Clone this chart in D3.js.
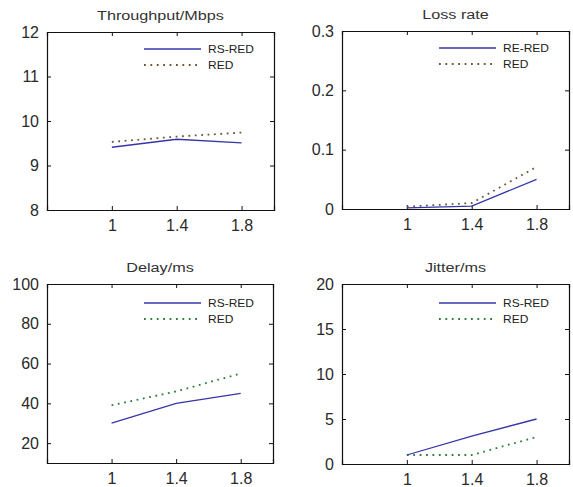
<!DOCTYPE html>
<html>
<head>
<meta charset="utf-8">
<script src="https://cdn.jsdelivr.net/npm/d3@7"></script>
<style>
  body { margin: 0; background: #fff; }
  text { font-family: "Liberation Sans", Arial, sans-serif; fill: #222; font-weight: normal; }
</style>
</head>
<body>
<svg id="chart" width="573" height="487"></svg>
<script>
// x values shared by all panels
const xValues = [1, 1.4, 1.8];
const xTicks = [1, 1.4, 1.8];

// panel titles and legend labels
const titles = ["Throughput/Mbps", "Loss rate", "Delay/ms", "Jitter/ms"];
const legendLabels = [["RS-RED", "RED"], ["RE-RED", "RED"], ["RS-RED", "RED"], ["RS-RED", "RED"]];

// series values
const throughputRsRed = [9.41, 9.59, 9.51];
const throughputRed = [9.53, 9.65, 9.74];
const lossRsRed = [0.002, 0.005, 0.05];
const lossRed = [0.004, 0.01, 0.071];
const delayRsRed = [30, 40, 45];
const delayRed = [39, 46, 55];
const jitterRsRed = [1, 3.1, 5];
const jitterRed = [1, 1, 3];

// y tick labels
const throughputTicks = [8, 9, 10, 11, 12];
const lossTicks = [0, 0.1, 0.2, 0.3];
const delayTicks = [20, 40, 60, 80, 100];
const jitterTicks = [0, 5, 10, 15, 20];

const svg = d3.select("#chart");

// layout of the four axes boxes
const panels = [
  { box: [47, 32, 227, 178], yDomain: [8, 12], yTicks: throughputTicks, a: throughputRsRed, b: throughputRed, dotColor: "#6a5636", legY: 17 },
  { box: [342, 31, 227, 178], yDomain: [0, 0.3], yTicks: lossTicks, a: lossRsRed, b: lossRed, dotColor: "#6a5636", legY: 17 },
  { box: [47, 284, 226, 179], yDomain: [10, 100], yTicks: delayTicks, a: delayRsRed, b: delayRed, dotColor: "#2f7d36", legY: 19 },
  { box: [342, 284, 227, 180], yDomain: [0, 20], yTicks: jitterTicks, a: jitterRsRed, b: jitterRed, dotColor: "#2f7d36", legY: 19 }
];

const tickLen = 4;

panels.forEach((p, i) => {
  const [left, top, w, h] = p.box;
  const g = svg.append("g").attr("transform", `translate(${left},${top})`);

  const x = d3.scaleLinear().domain([0.6, 2]).range([0, w]);
  const y = d3.scaleLinear().domain(p.yDomain).range([h, 0]);

  // axes with labels outside, ticks drawn inward
  g.append("g")
    .attr("transform", `translate(0,${h})`)
    .call(d3.axisBottom(x).tickValues(xTicks).tickSize(-tickLen).tickPadding(10).tickFormat(d => String(d)));
  g.append("g")
    .call(d3.axisLeft(y).tickValues(p.yTicks).tickSize(-tickLen).tickPadding(8).tickFormat(d => String(d)));
  g.append("g")
    .call(d3.axisTop(x).tickValues(xTicks).tickSize(-tickLen).tickFormat(""));
  g.append("g")
    .attr("transform", `translate(${w},0)`)
    .call(d3.axisRight(y).tickValues(p.yTicks).tickSize(-tickLen).tickFormat(""));

  g.selectAll(".domain").attr("stroke", "#111").attr("stroke-width", 1.2);
  g.selectAll(".tick line").attr("stroke", "#111");
  g.selectAll(".tick text").style("font-size", "16px").style("fill", "#2a2a2a");

  // title
  g.append("text")
    .attr("transform", `translate(${w / 2},-12) scale(1.2,1)`)
    .attr("text-anchor", "middle")
    .style("font-size", "13.5px")
    .style("fill", "#333")
    .text(titles[i]);

  const line = d3.line().x((d, j) => x(xValues[j])).y(d => y(d));

  g.append("path")
    .datum(p.b)
    .attr("d", line)
    .attr("fill", "none")
    .attr("stroke", p.dotColor)
    .attr("stroke-width", 1.8)
    .attr("stroke-dasharray", "1.8,4.6");

  g.append("path")
    .datum(p.a)
    .attr("d", line)
    .attr("fill", "none")
    .attr("stroke", "#3636a8")
    .attr("stroke-width", 1.3);

  // legend
  const lx0 = 97, lx1 = 154, tx = 161;
  const leg = g.append("g").attr("transform", `translate(0,${p.legY})`);
  leg.append("line").attr("x1", lx0).attr("x2", lx1).attr("y1", 0).attr("y2", 0)
    .attr("stroke", "#3636a8").attr("stroke-width", 1.3);
  leg.append("line").attr("x1", lx0).attr("x2", lx1).attr("y1", 16).attr("y2", 16)
    .attr("stroke", p.dotColor).attr("stroke-width", 1.8).attr("stroke-dasharray", "1.8,4.6");
  legendLabels[i].forEach((lab, k) => {
    leg.append("text")
      .attr("transform", `translate(${tx},${k * 16 + 4}) scale(1.2,1)`)
      .style("font-size", "10px")
      .text(lab);
  });
});
</script>
</body>
</html>
